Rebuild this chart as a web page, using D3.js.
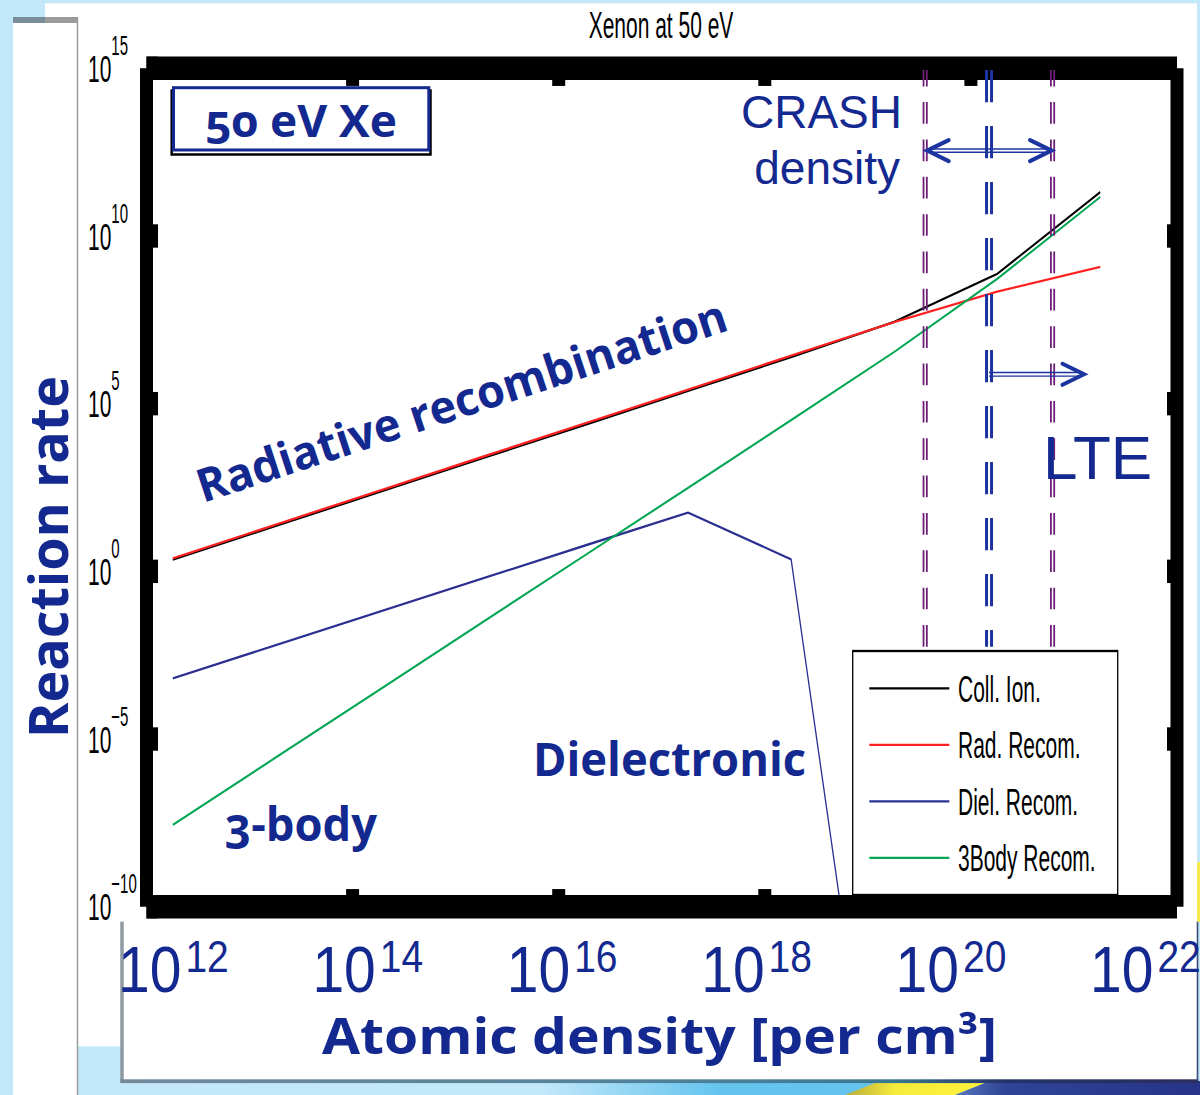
<!DOCTYPE html>
<html>
<head>
<meta charset="utf-8">
<script src="https://cdn.jsdelivr.net/npm/d3@7"></script>
<style>
  html, body { margin: 0; padding: 0; background: #c3e8fa; }
  svg { display: block; }
  .slide { font-family: "Open Sans", "DejaVu Sans", sans-serif; font-weight: 700; fill: #13298f; font-variant-numeric: oldstyle-nums; }
  .plain { font-family: "Liberation Sans", Arial, sans-serif; font-weight: 400; fill: #13298f; }
  .mat { font-family: "Liberation Sans", Arial, sans-serif; fill: #000; }
</style>
</head>
<body>
<svg id="chart" width="1200" height="1095"></svg>
<script>
// ---- data -------------------------------------------------------------
// atomic densities (per cm^3) at which the rates were evaluated
const density   = [1.8e12, 1.8e13, 1.8e14, 1.8e15, 1.8e16, 1.8e17, 1.8e18, 1.8e19, 1.8e20, 1.8e21];
// reaction rates for 50 eV xenon
const collIon   = [2.24, 22.6, 229, 2340, 2.34e4, 2.40e5, 2.45e6, 2.75e7, 7.41e8, 2.04e11];
const radRecom  = [2.45, 24.8, 251, 2570, 2.57e4, 2.63e5, 2.69e6, 2.69e7, 2.19e8, 1.20e9];
const dielRecom = [6.46e-4, 6.31e-3, 6.17e-2, 0.603, 5.89, 56.2, 2.29, 6.6e-22];
const threeBody = [2.75e-8, 2.82e-6, 2.88e-4, 2.95e-2, 3.02, 309, 3.24e4, 3.47e6, 5.25e8, 1.45e11];

const seriesNames  = ["Coll. Ion.", "Rad. Recom.", "Diel. Recom.", "3Body Recom."];
const seriesValues = [collIon, radRecom, dielRecom, threeBody];
const seriesColors = ["#000000", "#ff2020", "#2b2f92", "#00a651"];

const yTickExp    = [15, 10, 5, 0, -5, -10];
const yInnerTicks = [1e-5, 1, 1e5, 1e10];
const xFrameTicks = [1e14, 1e16, 1e18, 1e20];
const xLabelExp   = [12, 14, 16, 18, 20, 22];

// density markers
const crashRange = [3.6e19, 6.2e20];
const lteDensity = 1.5e20;

// ---- setup ------------------------------------------------------------
const K = 1.8;                       // vertical stretch of the figure panel
const svg = d3.select("#chart");
const defs = svg.append("defs");

const x = d3.scaleLog().domain([1e12, 1e22]).range([146.5, 1177]);
const y = d3.scaleLog().domain([1e-10, 1e15]).range([906.7 / K, 68.3 / K]);

// ---- slide background -------------------------------------------------
svg.append("rect").attr("width", 1200).attr("height", 1095).attr("fill", "#c3e8fa");

const strip = defs.append("linearGradient").attr("id", "strip").attr("x1", 0).attr("x2", 1).attr("y1", 0).attr("y2", 0);
[[0, "#c3e8fa"], [0.45, "#c3e8fa"], [0.6, "#64c4ee"], [1, "#64c4ee"]]
  .forEach(([o, c]) => strip.append("stop").attr("offset", o).attr("stop-color", c));
svg.append("rect").attr("x", 0).attr("y", 1081).attr("width", 1200).attr("height", 14).attr("fill", "url(#strip)");

const gold = defs.append("linearGradient").attr("id", "gold").attr("x1", 0).attr("x2", 1).attr("y1", 0).attr("y2", 0);
[[0, "#b8ac3a"], [0.35, "#f6ec3c"], [1, "#fff23a"]]
  .forEach(([o, c]) => gold.append("stop").attr("offset", o).attr("stop-color", c));
svg.append("polygon").attr("points", "880,1081 990,1081 955,1095 845,1095").attr("fill", "url(#gold)");

const navy = defs.append("linearGradient").attr("id", "navy").attr("x1", 0).attr("x2", 1).attr("y1", 0).attr("y2", 0);
[[0, "#5a78bf"], [0.2, "#2f4496"], [1, "#26348a"]]
  .forEach(([o, c]) => navy.append("stop").attr("offset", o).attr("stop-color", c));
svg.append("polygon").attr("points", "990,1081 1200,1081 1200,1095 955,1095").attr("fill", "url(#navy)");

// white figure panel
svg.append("rect").attr("x", 45).attr("y", 3.3).attr("width", 1152).attr("height", 1043).attr("fill", "#fff");
// narrow side panel
svg.append("rect").attr("x", 13).attr("y", 17).attr("width", 64.5).attr("height", 1078).attr("fill", "#fff");
svg.append("rect").attr("x", 13).attr("y", 17).attr("width", 32).attr("height", 6).attr("fill", "#788e9b");
svg.append("rect").attr("x", 45).attr("y", 17).attr("width", 33).attr("height", 6).attr("fill", "#9b9b9b");
svg.append("line").attr("x1", 77.5).attr("x2", 77.5).attr("y1", 17).attr("y2", 1095)
  .attr("stroke", "#9c9c9c").attr("stroke-width", 1.5);
svg.append("rect").attr("x", 1197).attr("y", 862).attr("width", 3).attr("height", 60).attr("fill", "#f4e84a");

// ---- figure (stretched vertically) -----------------------------------
const fig = svg.append("g").attr("transform", `scale(1,${K})`);

defs.append("clipPath").attr("id", "plotClip").append("rect")
  .attr("x", x.range()[0]).attr("y", y.range()[1])
  .attr("width", x.range()[1] - x.range()[0]).attr("height", y.range()[0] - y.range()[1]);

const line = d3.line().x((d, i) => x(density[i])).y(d => y(d));
fig.append("g").attr("clip-path", "url(#plotClip)")
  .selectAll("path").data(seriesValues).join("path")
  .attr("d", line)
  .attr("fill", "none")
  .attr("stroke", (d, i) => seriesColors[i])
  .attr("stroke-width", 1.3)
  .attr("stroke-linejoin", "round");

// axes box with inward ticks
function styleFrame(g) {
  g.attr("font-family", null).attr("font-size", null);
  g.select(".domain").attr("stroke", "#000").attr("stroke-width", 13).attr("stroke-linecap", "butt").attr("fill", "none");
  g.selectAll(".tick line").attr("stroke", "#000").attr("stroke-width", 13).attr("stroke-linecap", "butt");
}
fig.append("g").attr("transform", `translate(0,${y.range()[1]})`)
  .call(d3.axisTop(x).tickValues(xFrameTicks).tickSize(-9.8).tickSizeOuter(0).offset(0).tickFormat(() => ""))
  .call(styleFrame);
fig.append("g").attr("transform", `translate(0,${y.range()[0]})`)
  .call(d3.axisBottom(x).tickValues(xFrameTicks).tickSize(-9.8).tickSizeOuter(0).offset(0).tickFormat(() => ""))
  .call(styleFrame);
fig.append("g").attr("transform", `translate(${x.range()[1]},0)`)
  .call(d3.axisRight(y).tickValues(yInnerTicks).tickSize(-10).tickSizeOuter(0).offset(0).tickFormat(() => ""))
  .call(styleFrame);
const gLeft = fig.append("g").attr("transform", `translate(${x.range()[0]},0)`)
  .call(d3.axisLeft(y).tickValues(yTickExp.map(e => Math.pow(10, e))).tickSize(-11.5).tickPadding(58.5)
    .tickSizeOuter(0).offset(0).tickFormat(() => ""))
  .call(styleFrame);

gLeft.selectAll(".tick text").each(function (d) {
  const t = d3.select(this)
    .attr("class", "mat").attr("text-anchor", "start").attr("dy", "0.36em")
    .attr("font-size", 21).attr("fill", "#000");
  const e = Math.round(Math.log10(d));
  t.append("tspan").text("10");
  t.append("tspan").attr("font-size", 15).attr("dy", -15).text(String(e).replace("-", "\u2212"));
});

// title
fig.append("text").attr("class", "mat").attr("x", 661).attr("y", 38.3 / K)
  .attr("text-anchor", "middle").attr("font-size", 21).text("Xenon at 50 eV");

// legend
const legend = fig.append("g");
legend.append("rect").attr("x", 852.7).attr("y", 651 / K).attr("width", 265).attr("height", (895 - 651) / K)
  .attr("fill", "#fff").attr("stroke", "#000").attr("stroke-width", 1.3);
const rows = legend.selectAll("g.row").data(seriesNames).join("g").attr("class", "row")
  .attr("transform", (d, i) => `translate(0,${(688.3 + i * 56.5) / K})`);
rows.append("line").attr("x1", 869.3).attr("x2", 949.3)
  .attr("stroke", (d, i) => seriesColors[i]).attr("stroke-width", 1.3);
rows.append("text").attr("class", "mat").attr("x", 958).attr("dy", "0.36em")
  .attr("font-size", 21).text(d => d);

// ---- density markers --------------------------------------------------
function doubleDash(xc, half, w, color, dash, offset) {
  [-half, half].forEach(o => {
    svg.append("line").attr("x1", xc + o).attr("x2", xc + o).attr("y1", 70).attr("y2", 646.7)
      .attr("stroke", color).attr("stroke-width", w)
      .attr("stroke-dasharray", dash).attr("stroke-dashoffset", offset);
  });
}
crashRange.forEach(v => doubleDash(x(v), 1.65, 1.8, "#6d1f78", "21.7 15.65", 5.25));
doubleDash(x(lteDensity), 2.5, 3, "#1c34a0", "32.3 23.7", 0);

function doubleShaft(x1, x2, yc, gap) {
  [-gap / 2, gap / 2].forEach(o => {
    svg.append("line").attr("x1", x1).attr("x2", x2).attr("y1", yc + o).attr("y2", yc + o)
      .attr("stroke", "#1c34a0").attr("stroke-width", 1.4);
  });
}
function head(tipX, yc, dir) {
  svg.append("polyline")
    .attr("points", `${tipX - dir * 21.5},${yc - 10.5} ${tipX},${yc} ${tipX - dir * 21.5},${yc + 10.5}`)
    .attr("fill", "none").attr("stroke", "#1c34a0").attr("stroke-width", 4)
    .attr("stroke-linecap", "round").attr("stroke-linejoin", "miter");
}
const cL = x(crashRange[0]) + 2, cR = x(crashRange[1]) - 1;
doubleShaft(cL + 2, cR - 2, 150.6, 3.3);
head(cL, 150.6, -1);
head(cR, 150.6, 1);

const lS = x(lteDensity), lT = 1084;
doubleShaft(lS, lT - 2, 374.3, 3.7);
head(lT, 374.3, 1);

// ---- annotations ------------------------------------------------------
svg.append("rect").attr("x", 171.7).attr("y", 90.5).attr("width", 258.8).attr("height", 64)
  .attr("fill", "none").attr("stroke", "#000").attr("stroke-width", 2.5);
svg.append("rect").attr("x", 173.5).attr("y", 87.7).attr("width", 255.3).attr("height", 62.3)
  .attr("fill", "#fff").attr("stroke", "#13298f").attr("stroke-width", 3);
svg.append("text").attr("class", "slide").attr("x", 205).attr("y", 136.7)
  .attr("font-size", 44).attr("textLength", 192).attr("lengthAdjust", "spacingAndGlyphs").text("50 eV Xe");

svg.append("text").attr("class", "slide").attr("transform", "translate(203,503) rotate(-18.2)")
  .attr("font-size", 46).attr("textLength", 555).attr("lengthAdjust", "spacingAndGlyphs")
  .text("Radiative recombination");
svg.append("text").attr("class", "slide").attr("x", 533).attr("y", 776)
  .attr("font-size", 46).attr("textLength", 273).attr("lengthAdjust", "spacingAndGlyphs").text("Dielectronic");
svg.append("text").attr("class", "slide").attr("x", 225).attr("y", 841)
  .attr("font-size", 46).attr("textLength", 152).attr("lengthAdjust", "spacingAndGlyphs").text("3-body");
svg.append("text").attr("class", "slide").attr("transform", "translate(68,557) rotate(-90)")
  .attr("text-anchor", "middle").attr("font-size", 53)
  .attr("textLength", 362).attr("lengthAdjust", "spacingAndGlyphs").text("Reaction rate");

svg.append("text").attr("class", "plain").attr("x", 902).attr("y", 128)
  .attr("text-anchor", "end").attr("font-size", 46).text("CRASH");
svg.append("text").attr("class", "plain").attr("x", 900).attr("y", 184)
  .attr("text-anchor", "end").attr("font-size", 46).text("density");
svg.append("text").attr("class", "plain").attr("x", 1043).attr("y", 479)
  .attr("font-size", 62).text("LTE");

// ---- density axis labels panel ---------------------------------------
svg.append("rect").attr("x", 121.5).attr("y", 921.7).attr("width", 1075.5).attr("height", 159)
  .attr("fill", "#fff");
const rim = defs.append("linearGradient").attr("id", "rim").attr("x1", 0).attr("x2", 1).attr("y1", 0).attr("y2", 0);
[[0, "#73899a"], [0.55, "#4c8098"], [0.72, "#3a7790"], [0.82, "#253268"], [1, "#2a2f5e"]]
  .forEach(([o, c]) => rim.append("stop").attr("offset", o).attr("stop-color", c));
svg.append("line").attr("x1", 122).attr("x2", 122).attr("y1", 921.7).attr("y2", 1081)
  .attr("stroke", "#8e9aa2").attr("stroke-width", 3.5);
svg.append("rect").attr("x", 120.3).attr("y", 1079.3).attr("width", 1078).attr("height", 3.8)
  .attr("fill", "url(#rim)");
svg.append("line").attr("x1", 1197.5).attr("x2", 1197.5).attr("y1", 921.7).attr("y2", 1081)
  .attr("stroke", "#3e4b78").attr("stroke-width", 1.6);

const xl = d3.scaleLinear().domain([12, 22]).range([118, 1090]);
const labelRow = svg.append("g").attr("transform", "translate(0,991.7) scale(1,1.14)");
labelRow.selectAll("text").data(xLabelExp).join("text")
  .attr("class", "plain").attr("x", d => xl(d)).attr("y", 0)
  .each(function (d) {
    const t = d3.select(this);
    t.append("tspan").attr("font-size", 57).text("10");
    t.append("tspan").attr("font-size", 39).attr("dx", 4).attr("dy", -17.5).text(d);
  });

svg.append("text").attr("class", "slide").attr("x", 322).attr("y", 1054)
  .attr("font-size", 50).attr("textLength", 675).attr("lengthAdjust", "spacingAndGlyphs")
  .text("Atomic density [per cm\u00b3]");
</script>
</body>
</html>
